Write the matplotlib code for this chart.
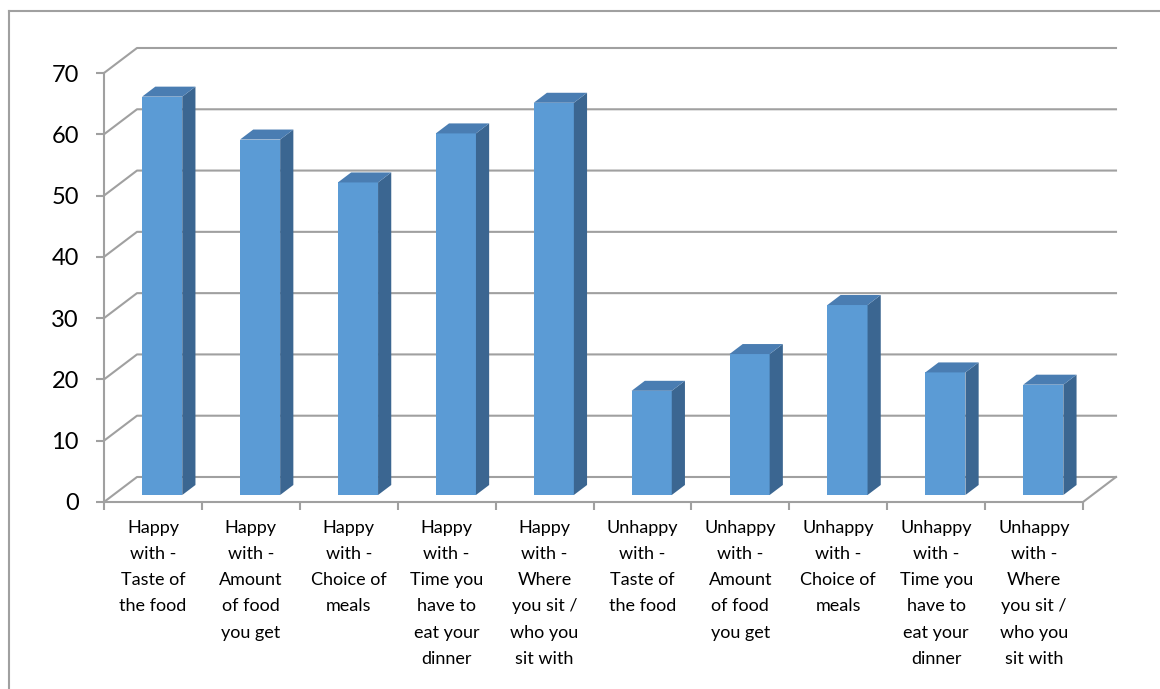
import matplotlib.pyplot as plt
from matplotlib.patches import Polygon
from matplotlib.lines import Line2D

categories = [
    "Happy\nwith -\nTaste of\nthe food",
    "Happy\nwith -\nAmount\nof food\nyou get",
    "Happy\nwith -\nChoice of\nmeals",
    "Happy\nwith -\nTime you\nhave to\neat your\ndinner",
    "Happy\nwith -\nWhere\nyou sit /\nwho you\nsit with",
    "Unhappy\nwith -\nTaste of\nthe food",
    "Unhappy\nwith -\nAmount\nof food\nyou get",
    "Unhappy\nwith -\nChoice of\nmeals",
    "Unhappy\nwith -\nTime you\nhave to\neat your\ndinner",
    "Unhappy\nwith -\nWhere\nyou sit /\nwho you\nsit with",
]
values = [65, 58, 51, 59, 64, 17, 23, 31, 20, 18]
yticks = [0, 10, 20, 30, 40, 50, 60, 70]

plt.rcParams['font.family'] = ['Lato', 'DejaVu Sans']

FRONT = '#5B9BD5'
SIDE = '#3B6691'
TOP = '#4A7DB2'
GRID = '#A0A0A0'

# depth of the floor (in data units) and bar placement inside it
DX, DY = 0.337, 4.08
BAR_Z0, BAR_DEPTH = 0.28, 0.40
BAR_W = 0.41

fig = plt.figure(figsize=(11.6, 6.89), dpi=100)
ax = fig.add_axes([104 / 1160, 187 / 689, 979 / 1160, 429 / 689])
ax.set_xlim(0, 10)
ax.set_ylim(0, 70)

# back wall gridlines and the side-wall diagonals
for v in yticks:
    ax.add_line(Line2D([0, DX, 10 + DX], [v, v + DY, v + DY],
                       color=GRID, lw=1.5, clip_on=False, zorder=1))
# right edge of the floor
ax.add_line(Line2D([10, 10 + DX], [0, DY], color=GRID, lw=1.5,
                   clip_on=False, zorder=1))

# columns: front face from ax.bar, side and top as polygons
ox, oy = BAR_Z0 * DX, BAR_Z0 * DY
bx, by = BAR_DEPTH * DX, BAR_DEPTH * DY
xs = [i + 0.5 + ox for i in range(len(values))]
ax.bar(xs, values, width=BAR_W, bottom=oy, color=FRONT, zorder=3,
       clip_on=False)
for x, v in zip(xs, values):
    l, r = x - BAR_W / 2, x + BAR_W / 2
    top = oy + v
    ax.add_patch(Polygon([(r, oy), (r + bx, oy + by), (r + bx, top + by), (r, top)],
                         closed=True, color=SIDE, lw=0, zorder=3, clip_on=False))
    ax.add_patch(Polygon([(l, top), (r, top), (r + bx, top + by), (l + bx, top + by)],
                         closed=True, color=TOP, lw=0, zorder=3, clip_on=False))

# axes
for s in ['top', 'right']:
    ax.spines[s].set_visible(False)
for s in ['left', 'bottom']:
    ax.spines[s].set_color(GRID)
    ax.spines[s].set_linewidth(1.5)
ax.set_yticks(yticks)
ax.set_xticks(range(11))
ax.set_xticklabels([])
ax.tick_params(axis='y', direction='out', length=6, width=1.5, color=GRID,
               labelsize=17, pad=12)
ax.tick_params(axis='x', direction='out', length=6, width=1.5, color=GRID)
ax.set_facecolor('none')

for i, lab in enumerate(categories):
    ax.annotate(lab, (i + 0.5, 0), xytext=(0, -13), textcoords='offset points',
                ha='center', va='top', fontsize=13, linespacing=1.78,
                annotation_clip=False)

# chart area border
fig.add_artist(Line2D([9 / 1160, 9 / 1160], [0, 1 - 11 / 689], color='#A0A0A0',
                      lw=1.5, transform=fig.transFigure))
fig.add_artist(Line2D([9 / 1160, 1], [1 - 11 / 689, 1 - 11 / 689], color='#A0A0A0',
                      lw=1.5, transform=fig.transFigure))

fig.savefig('out.png', dpi=100)
